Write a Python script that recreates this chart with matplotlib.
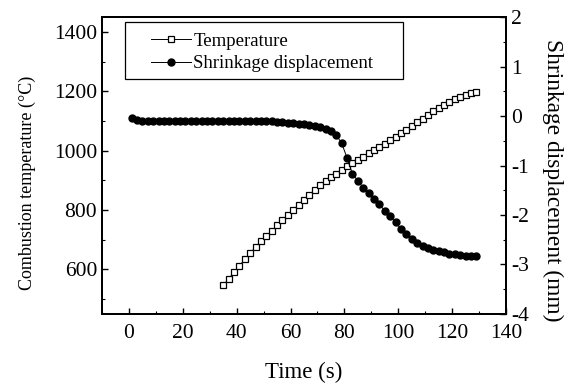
import matplotlib
matplotlib.use('Agg')
import matplotlib.pyplot as plt
from matplotlib.ticker import MultipleLocator
from matplotlib.patches import Rectangle

plt.rcParams['font.family'] = 'Liberation Serif'
plt.rcParams['axes.unicode_minus'] = False

# temperature (left axis)
t_temp = list(range(35, 130, 2))
temp = [547, 568, 590, 612, 634, 655, 675, 695, 712, 730, 748, 766, 783, 800,
        818, 835, 852, 868, 884, 898, 910, 922, 935, 947, 958, 970, 980, 991,
        1002, 1013, 1024, 1035, 1046, 1058, 1070, 1083, 1096, 1108, 1120, 1132,
        1143, 1154, 1164, 1173, 1181, 1188, 1194, 1199]

# shrinkage displacement (right axis)
t_shr = list(range(1, 130, 2))
shrink = [-0.05, -0.09, -0.10, -0.10, -0.10, -0.10, -0.10, -0.10, -0.10, -0.10,
          -0.10, -0.10, -0.10, -0.10, -0.10, -0.10, -0.10, -0.10, -0.10, -0.10,
          -0.10, -0.10, -0.10, -0.10, -0.11, -0.11, -0.11, -0.12, -0.13, -0.14,
          -0.15, -0.16, -0.17, -0.18, -0.20, -0.22, -0.26, -0.31, -0.39, -0.55,
          -0.85, -1.17, -1.31, -1.45, -1.55, -1.68, -1.78, -1.92, -2.02, -2.15,
          -2.28, -2.38, -2.49, -2.57, -2.63, -2.67, -2.70, -2.73, -2.75, -2.78,
          -2.79, -2.81, -2.83, -2.83, -2.83]

fig = plt.figure(figsize=(5.75, 3.84), dpi=100)
ax = fig.add_axes([0.1774, 0.1823, 0.7026, 0.7734])
ax2 = ax.twinx()

l1, = ax.plot(t_temp, temp, '-', color='black', lw=0.7, marker='s', ms=4.2,
              mfc='white', mec='black', mew=0.9, label='Temperature')
l2, = ax2.plot(t_shr, shrink, '-', color='black', lw=0.7, marker='o', ms=5,
               mfc='black', mec='black', label='Shrinkage displacement')

ax.set_xlim(-10, 140)
ax.set_ylim(450, 1450)
ax2.set_ylim(-4, 2)

ax.xaxis.set_major_locator(MultipleLocator(20))
ax.xaxis.set_minor_locator(MultipleLocator(10))
ax.yaxis.set_major_locator(MultipleLocator(200))
ax.yaxis.set_minor_locator(MultipleLocator(100))
ax2.yaxis.set_major_locator(MultipleLocator(1))
ax2.yaxis.set_minor_locator(MultipleLocator(0.5))

for a in (ax, ax2):
    a.tick_params(which='major', direction='in', length=4, width=1, labelsize=15.5)
    a.tick_params(which='minor', direction='in', length=2, width=0.8)
    for s in a.spines.values():
        s.set_linewidth(1.4)
ax.tick_params(axis='y', which='both', right=False)
ax.tick_params(axis='x', which='both', top=False)
ax.tick_params(axis='x', which='major', pad=7.5)

ax.set_xlabel('Time (s)', fontsize=16.5, labelpad=13)
ax.set_ylabel('Combustion temperature (°C)', fontsize=13)
ax.yaxis.set_label_coords(-0.163, 0.44)
ax2.set_ylabel('Shrinkage displacement (mm)', fontsize=16.8, rotation=270,
               va='center')
ax2.yaxis.set_label_coords(1.116, 0.45)

# legend with a hand-placed frame (wider padding than the default frame)
leg = ax.legend(handles=[l1, l2], loc='upper left', bbox_to_anchor=(0.122, 0.948),
                fontsize=13.5, frameon=False, handlelength=2.1,
                handletextpad=0.15, borderpad=0, labelspacing=0.3,
                borderaxespad=0)
ax.add_patch(Rectangle((0.057, 0.791), 0.688, 0.193, transform=ax.transAxes,
                       fill=False, ec='black', lw=0.9, zorder=5))

fig.savefig('out.png', dpi=100)
